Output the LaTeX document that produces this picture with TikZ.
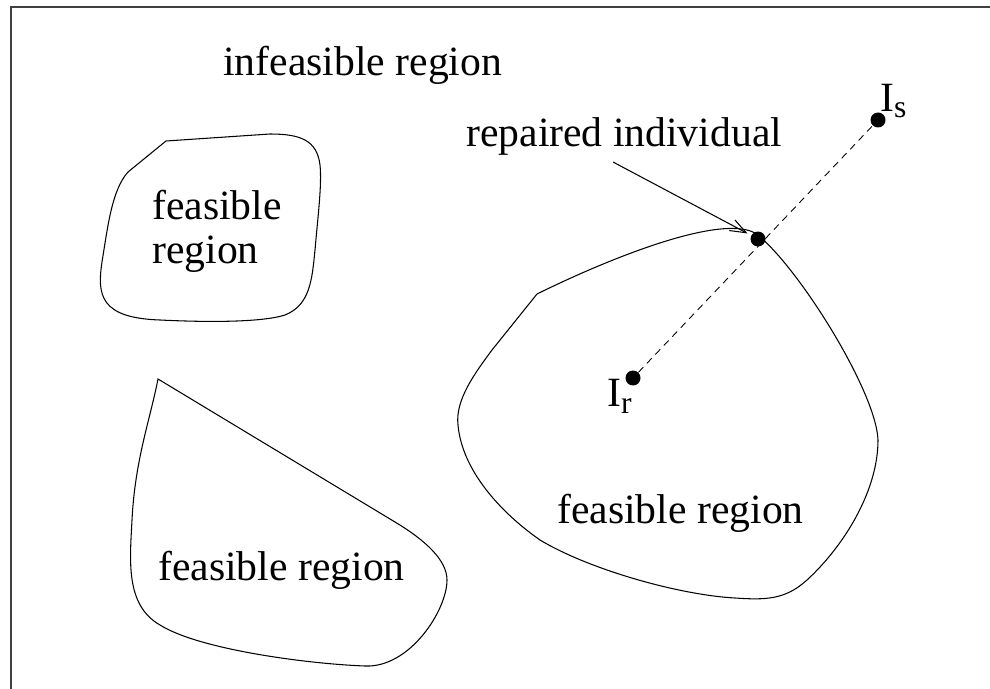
\documentclass[tikz,border=0pt]{standalone}
\usepackage{fontspec}
\setmainfont{Liberation Serif}
\usetikzlibrary{arrows.meta}

\begin{document}
\begin{tikzpicture}[
    x=0.02cm, y=-0.02cm,
    frame/.style={draw=black!75, line width=0.8pt},
    region/.style={draw=black, line width=0.6pt},
    regiontext/.style={inner sep=0pt, anchor=base west, font=\fontsize{23.7}{25}\selectfont},
    point/.style={circle, fill=black, inner sep=0pt, minimum size=0.3cm},
    pointer/.style={draw=black, line width=0.6pt, -{Straight Barb[length=3.2mm, width=2.4mm]}, shorten >=0.08cm},
    ray/.style={draw=black, line width=0.5pt, dash pattern=on 4pt off 3pt}
]
    \useasboundingbox (0,0) rectangle (990,689);

    % Frame
    \draw[frame] (990,7) -- (11,7) -- (11,689);

    % Feasible regions
    \draw[region] (166,141) -- (128,172)
        .. controls (112,190) and (108,225) .. (102,262)
        .. controls (97,295) and (100,318) .. (160,320)
        .. controls (200,322) and (260,323) .. (285,315)
        .. controls (310,305) and (312,280) .. (315,250)
        .. controls (318,215) and (322,185) .. (320,165)
        .. controls (317,140) and (300,134) .. (270,134) -- cycle;

    \draw[region] (158,379) -- (395,522)
        .. controls (425,540) and (447,560) .. (447,580)
        .. controls (447,610) and (410,668) .. (365,666)
        .. controls (310,664) and (200,650) .. (160,625)
        .. controls (125,605) and (130,560) .. (132,520)
        .. controls (135,460) and (150,420) .. cycle;

    \draw[region] (537,294) -- (492,350)
        .. controls (475,373) and (455,400) .. (458,425)
        .. controls (462,470) and (500,512) .. (540,540)
        .. controls (590,570) and (680,595) .. (735,598)
        .. controls (765,600) and (785,600) .. (807,580)
        .. controls (845,545) and (878,490) .. (878,440)
        .. controls (876,390) and (795,262) .. (755,233)
        .. controls (720,214) and (610,258) .. cycle;

    % Labels
    \node[regiontext] (infeasible) at (223,76) {infeasible region};
    \node[regiontext, anchor=north west, align=left] (feasA) at (152,190) {feasible\\region};
    \node[regiontext] (feasB) at (158,580) {feasible region};
    \node[regiontext] (feasC) at (557,523) {feasible region};
    \node[regiontext] (repLabel) at (466,147) {repaired individual};

    % Individuals
    \node[point] (Is) at (878,120) {};
    \node[point] (Ir) at (633,378) {};
    \node[point] (rep) at (758,239) {};
    \node[regiontext] (IsLabel) at (880,112) {I\raisebox{-0.12cm}{\fontsize{18}{20}\selectfont s}};
    \node[regiontext] (IrLabel) at (607,406) {I\raisebox{-0.14cm}{\fontsize{18}{20}\selectfont r}};

    % Connections
    \coordinate (tail) at (613,162);
    \draw[ray] (Ir) -- (Is);
    \draw[pointer] (tail) -- (rep);
\end{tikzpicture}
\end{document}
